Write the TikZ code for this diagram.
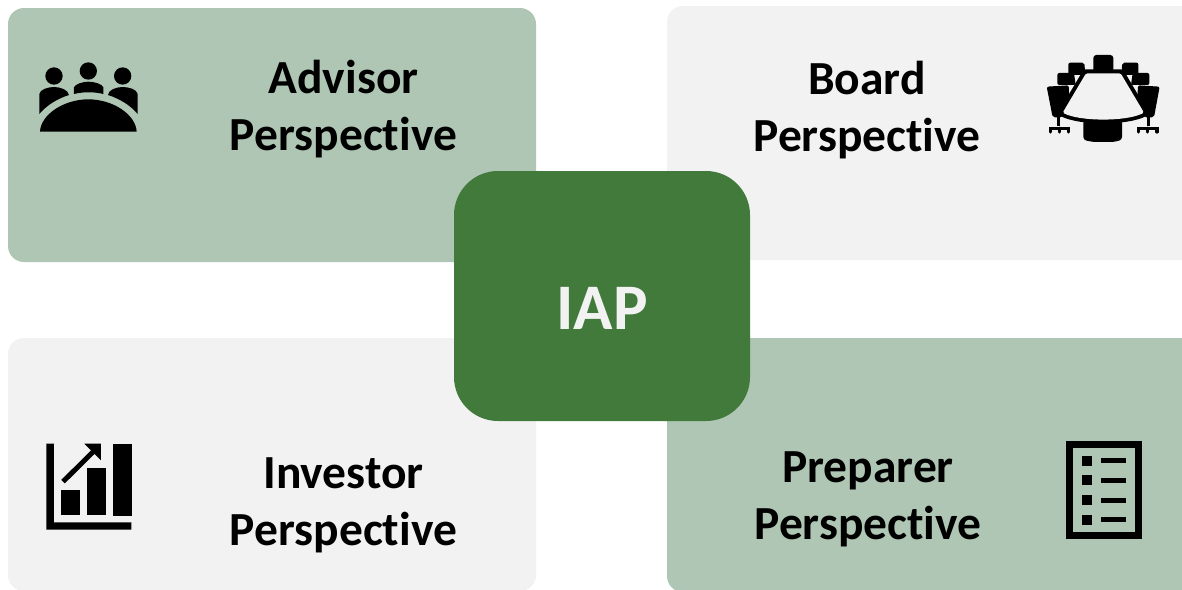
\documentclass[tikz,border=0pt]{standalone}
\usepackage{fontspec}
\setmainfont{Carlito}[Ligatures=NoCommon]
\definecolor{sage}{HTML}{AEC6B3}
\definecolor{pale}{HTML}{F2F2F2}
\definecolor{forest}{HTML}{427A3C}
\tikzset{
  x=1pt,y=-1pt,
  card/.style={draw=none,rounded corners=16pt,anchor=north west,inner sep=0pt,outer sep=0pt},
  hub/.style={fill=forest,rounded corners=44pt,anchor=center,inner sep=0pt,minimum width=296pt,minimum height=250pt},
  hubtext/.style={inner sep=0pt,text=pale,font=\fontsize{65}{65}\selectfont\bfseries},
  lbl/.style={align=center,font=\fontsize{47.5}{57}\selectfont\bfseries,text=black,inner sep=0pt},
  icon/.style={x=0.3333pt,y=-0.3333pt},
}
\begin{document}
\begin{tikzpicture}
\useasboundingbox (0,0) rectangle (1182,589);
\clip (0,0) rectangle (1182,589);
\fill[white] (0,0) rectangle (1182,589);
\node[card,fill=sage,minimum width=528pt,minimum height=254pt] (advisor) at (8,8) {};
\node[card,fill=pale,minimum width=560pt,minimum height=254pt] (board) at (667,6) {};
\node[card,fill=pale,minimum width=528pt,minimum height=253pt] (investor) at (8,338) {};
\node[card,fill=sage,minimum width=560pt,minimum height=254pt] (preparer) at (667,338) {};
\node[hub] (iap) at (602,296) {};
\node[hubtext] (iaptext) at (602,308) {IAP};
\node[lbl] (advisortext) at (343.5,109.5) {Advisor\\Perspective};
\node[lbl] (boardtext) at (867,110.5) {Board\\Perspective};
\node[lbl] (investortext) at (343.5,505) {Investor\\Perspective};
\node[lbl] (preparertext) at (868,499) {Preparer\\Perspective};
% advisor icon
\begin{scope}[shift={(20,40)},icon]
\fill (102,108) circle[radius=26];
\fill (205,93) circle[radius=26];
\fill (308,108) circle[radius=26];
\fill (58,222) -- (58,162) .. controls (60,148) and (85,141) .. (102,141) .. controls (122,141) and (145,150) .. (147,165) .. controls (115,175) and (80,195) .. cycle;
\fill (353,222) -- (353,162) .. controls (351,148) and (326,141) .. (308,141) .. controls (288,141) and (265,150) .. (264,165) .. controls (296,175) and (331,195) .. cycle;
\fill (162,162) -- (162,142) .. controls (165,132) and (190,125) .. (205,125) .. controls (222,125) and (247,132) .. (250,142) -- (250,162) .. controls (222,155) and (190,155) .. cycle;
\fill (60,275) -- (350,275) .. controls (348,225) and (280,178) .. (205,178) .. controls (130,178) and (62,225) .. cycle;
\end{scope}
% board icon
\begin{scope}[shift={(1030,40)},icon]
\fill[rounded corners=3pt] (190,100) -- (190,45) -- (250,45) -- (250,100) -- cycle;
\fill[rounded corners=2pt] (115,105) -- (115,68) -- (163,68) -- (166,105) -- cycle;
\fill[rounded corners=2pt] (325,105) -- (325,68) -- (277,68) -- (274,105) -- cycle;
\fill[rounded corners=2pt] (82,135) -- (82,99) -- (132,99) -- (137,135) -- cycle;
\fill[rounded corners=2pt] (358,135) -- (358,99) -- (308,99) -- (303,135) -- cycle;
\fill[rounded corners=2pt] (68,232) -- (50,140) -- (116,136) -- (118,175) -- (97,232) -- cycle;
\fill[rounded corners=2pt] (372,232) -- (389,140) -- (324,136) -- (322,175) -- (343,232) -- cycle;
\fill[rounded corners=3pt] (160,240) -- (160,300) -- (190,306) -- (250,306) -- (276,300) -- (276,240) -- cycle;
\draw[line width=8pt,line join=round] (168,100) -- (272,100) -- (342,218) .. controls (290,245) and (150,245) .. (98,218) -- cycle;
\fill[pale,rounded corners=1.5pt] (168,100) -- (272,100) -- (342,218) .. controls (290,245) and (150,245) .. (98,218) -- cycle;
\draw[line width=3pt] (84,232) -- (84,258) (356,232) -- (356,258);
\draw[line width=3.2pt,line cap=round] (61,276) -- (61,265) -- (116,265) -- (116,276) (88,265) -- (88,276);
\draw[line width=3.2pt,line cap=round] (325,276) -- (325,265) -- (381,265) -- (381,276) (353,265) -- (353,276);
\end{scope}
% investor icon
\begin{scope}[shift={(30,430)},icon]
\fill (49,41) -- (72,41) -- (72,277) -- (304,277) -- (304,299) -- (49,299) -- cycle;
\fill (93,180) rectangle (150,255);
\fill (171,114) rectangle (228,255);
\fill (249,42) rectangle (306,258);
\draw[line width=5pt] (99,155) -- (195,60);
\fill (163,41) -- (213,41) -- (213,91) -- cycle;
\end{scope}
% preparer icon
\begin{scope}[shift={(1050,430)},icon]
\draw[line width=7.3pt] (59,44) rectangle (265,316);
\foreach \y in {93,150,210,270}{
  \fill (96,\y-15) rectangle (127,\y+15);
}
\foreach \y in {91,151,211,268}{
  \fill (153,\y-8) rectangle (228,\y+8);
}
\end{scope}
\end{tikzpicture}
\end{document}
